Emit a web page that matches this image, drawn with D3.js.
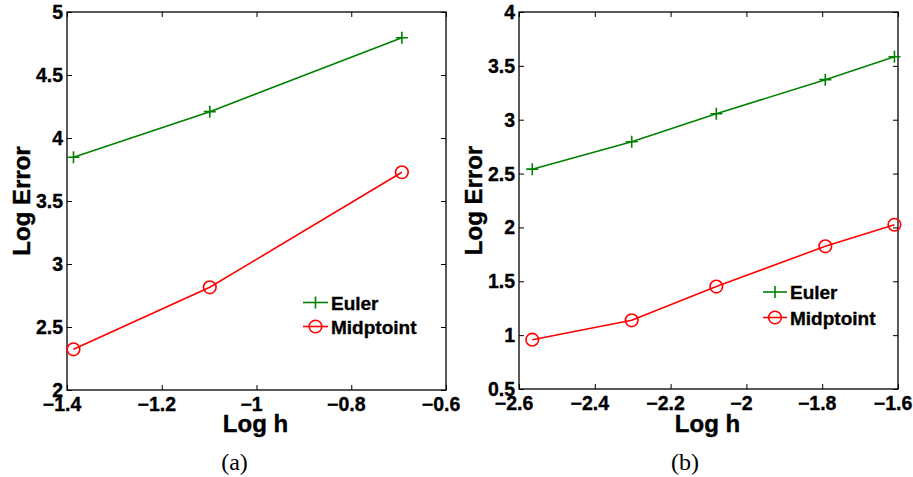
<!DOCTYPE html>
<html>
<head>
<meta charset="utf-8">
<script src="https://cdn.jsdelivr.net/npm/d3@7"></script>
<style>
  body { margin: 0; background: #fff; }
  svg text { font-family: "Liberation Sans", Arial, sans-serif; font-weight: bold; }
</style>
</head>
<body>
<div id="chart"></div>
<script>
// panel (a)
var logHA = [-1.3863, -1.0986, -0.6931];
var eulerA = [3.847, 4.209, 4.796];
var midA = [2.323, 2.815, 3.728];
var xTicksA = [-1.4, -1.2, -1, -0.8, -0.6];
var yTicksA = [2, 2.5, 3, 3.5, 4, 4.5, 5];

// panel (b)
var logHB = [-2.565, -2.3026, -2.0794, -1.7918, -1.6094];
var eulerB = [2.541, 2.795, 3.055, 3.372, 3.585];
var midB = [0.958, 1.138, 1.451, 1.825, 2.025];
var xTicksB = [-2.6, -2.4, -2.2, -2, -1.8, -1.6];
var yTicksB = [0.5, 1, 1.5, 2, 2.5, 3, 3.5, 4];

var seriesNames = ["Euler", "Midptoint"];
var green = "#008000", red = "#ff0000";

var svg = d3.select("#chart").append("svg")
       .attr("width", 913)
       .attr("height", 477);

function drawPanel(opt) {
       var x = d3.scaleLinear().domain(opt.xDomain).range([opt.left, opt.right]);
       var y = d3.scaleLinear().domain(opt.yDomain).range([opt.bottom, opt.top]);
       var g = svg.append("g");
       var tl = 5;

       // box
       g.append("rect")
              .attr("x", opt.left).attr("y", opt.top)
              .attr("width", opt.right - opt.left)
              .attr("height", opt.bottom - opt.top)
              .attr("fill", "none").attr("stroke", "#000").attr("stroke-width", 1.3);

       // inner ticks on all four sides
       var fmt = d3.format("");
       g.append("g").attr("transform", "translate(0," + opt.bottom + ")")
              .call(d3.axisTop(x).tickValues(opt.xTicks).tickSize(tl).tickFormat(""))
              .call(function (a) { a.select(".domain").remove(); });
       g.append("g").attr("transform", "translate(0," + opt.top + ")")
              .call(d3.axisBottom(x).tickValues(opt.xTicks).tickSize(tl).tickFormat(""))
              .call(function (a) { a.select(".domain").remove(); });
       g.append("g").attr("transform", "translate(" + opt.left + ",0)")
              .call(d3.axisRight(y).tickValues(opt.yTicks).tickSize(tl).tickFormat(""))
              .call(function (a) { a.select(".domain").remove(); });
       g.append("g").attr("transform", "translate(" + opt.right + ",0)")
              .call(d3.axisLeft(y).tickValues(opt.yTicks).tickSize(tl).tickFormat(""))
              .call(function (a) { a.select(".domain").remove(); });

       // tick labels (heavier, like the printed Helvetica bold)
       g.selectAll(".xl").data(opt.xTicks).enter().append("text")
              .attr("x", function (d) { return x(d) - 5; })
              .attr("y", opt.bottom + 21)
              .attr("text-anchor", "middle")
              .attr("font-size", 19.5)
              .attr("stroke", "#000").attr("stroke-width", 0.35)
              .text(function (d) { return fmt(d); });
       g.selectAll(".yl").data(opt.yTicks).enter().append("text")
              .attr("x", opt.left - 4)
              .attr("y", function (d) { return y(d) + 7; })
              .attr("text-anchor", "end")
              .attr("font-size", 19.5)
              .attr("stroke", "#000").attr("stroke-width", 0.35)
              .text(function (d) { return fmt(d); });

       // axis titles
       g.append("text")
              .attr("x", (opt.left + opt.right) / 2 - 1)
              .attr("y", 432)
              .attr("text-anchor", "middle")
              .attr("font-size", 24)
              .attr("stroke", "#000").attr("stroke-width", 0.4)
              .text("Log h");
       g.append("text")
              .attr("transform", "translate(" + (opt.left - 37) + "," + ((opt.top + opt.bottom) / 2) + ") rotate(-90)")
              .attr("text-anchor", "middle")
              .attr("font-size", 24)
              .attr("stroke", "#000").attr("stroke-width", 0.4)
              .text("Log Error");

       // caption
       g.append("text")
              .attr("x", opt.caption)
              .attr("y", 470)
              .attr("text-anchor", "middle")
              .attr("font-size", 24)
              .style("font-family", "'Liberation Serif', 'DejaVu Serif', serif")
              .style("font-weight", "normal")
              .text(opt.label);

       var line = d3.line()
              .x(function (d) { return x(d[0]); })
              .y(function (d) { return y(d[1]); });

       var eu = d3.zip(opt.h, opt.euler);
       var mp = d3.zip(opt.h, opt.mid);

       g.append("path").datum(eu).attr("d", line)
              .attr("fill", "none").attr("stroke", green).attr("stroke-width", 1.6);
       g.append("path").datum(mp).attr("d", line)
              .attr("fill", "none").attr("stroke", red).attr("stroke-width", 1.6);

       var s = 6;
       g.selectAll(".plus").data(eu).enter().append("path")
              .attr("d", function (d) {
                     var px = x(d[0]), py = y(d[1]);
                     return "M" + (px - s) + "," + py + "H" + (px + s) + "M" + px + "," + (py - s) + "V" + (py + s);
              })
              .attr("stroke", green).attr("stroke-width", 1.6);
       g.selectAll(".circ").data(mp).enter().append("circle")
              .attr("cx", function (d) { return x(d[0]); })
              .attr("cy", function (d) { return y(d[1]); })
              .attr("r", 6.3)
              .attr("fill", "none").attr("stroke", red).attr("stroke-width", 1.6);

       // legend
       var lx = opt.legX, ly = opt.legY;
       seriesNames.forEach(function (name, i) {
              var yy = ly + i * opt.legGap;
              var col = i === 0 ? green : red;
              var cx = lx + opt.legW / 2;
              g.append("line")
                     .attr("x1", lx).attr("x2", lx + opt.legW)
                     .attr("y1", yy).attr("y2", yy)
                     .attr("stroke", col).attr("stroke-width", 1.6);
              if (i === 0) {
                     g.append("line").attr("x1", cx).attr("x2", cx)
                            .attr("y1", yy - s).attr("y2", yy + s)
                            .attr("stroke", col).attr("stroke-width", 1.6);
              } else {
                     g.append("circle").attr("cx", cx).attr("cy", yy).attr("r", 6.3)
                            .attr("fill", "none").attr("stroke", col).attr("stroke-width", 1.6);
              }
              g.append("text")
                     .attr("x", lx + opt.legW + 3)
                     .attr("y", yy + 7)
                     .attr("font-size", 19)
                     .attr("stroke", "#000").attr("stroke-width", 0.35)
                     .text(name);
       });
}

drawPanel({
       left: 67, right: 446, top: 12, bottom: 390,
       xDomain: [-1.4, -0.6], yDomain: [2, 5],
       xTicks: xTicksA, yTicks: yTicksA,
       h: logHA, euler: eulerA, mid: midA,
       legX: 303, legY: 302.5, legW: 25, legGap: 24,
       caption: 234.5, label: "(a)"
});

drawPanel({
       left: 519, right: 898, top: 12, bottom: 389,
       xDomain: [-2.6, -1.6], yDomain: [0.5, 4],
       xTicks: xTicksB, yTicks: yTicksB,
       h: logHB, euler: eulerB, mid: midB,
       legX: 763, legY: 292, legW: 24, legGap: 25.5,
       caption: 685, label: "(b)"
});
</script>
</body>
</html>
